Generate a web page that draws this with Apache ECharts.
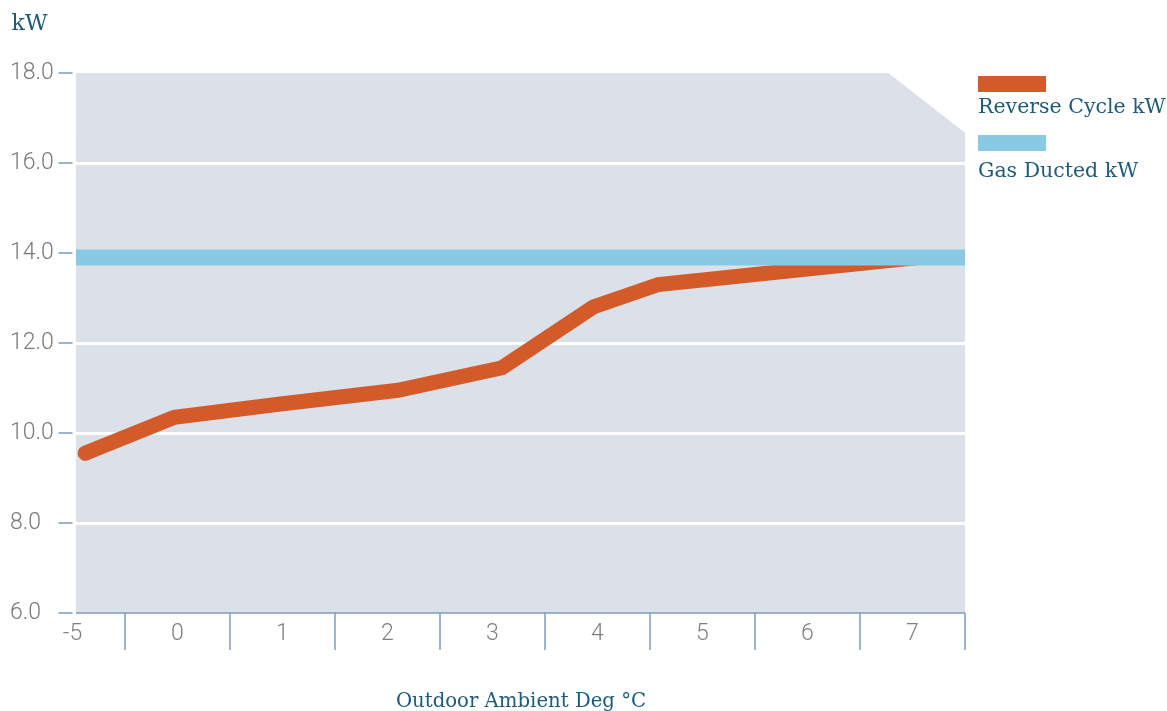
<!DOCTYPE html>
<html><head><meta charset="utf-8">
<script src="https://cdn.jsdelivr.net/npm/echarts@6/dist/echarts.min.js"></script>
<style>html,body{margin:0;padding:0;background:#fff}#c{width:1167px;height:711px}</style>
</head><body><div id="c"></div>
<script>
// ---- data ----
const categories = ['-5', '0', '1', '2', '3', '4', '5', '6', '7'];
// positions along the category axis (band index) where the Reverse Cycle line bends
const reverseCyclePos = [0.12, 0.97, 2.0, 3.1, 4.09, 4.96, 5.58, 8.05];
const reverseCycleKW = [9.55, 10.35, 10.65, 10.95, 11.45, 12.8, 13.3, 13.9];
const gasDuctedKW = 13.9;
const yMin = 6, yMax = 18, yStep = 2;
const seriesNames = ['Reverse Cycle kW', 'Gas Ducted kW'];
const xAxisTitle = 'Outdoor Ambient Deg °C';
const yAxisTitle = 'kW';

// ---- style / layout ----
const ORANGE = '#d35b2a', BLUE = '#89c9e4', GREY_BG = '#dce0e9', AXIS = '#7f9cbf', TEAL = '#1d5b78';
const NUM_FONT = 'Roboto', SLAB = '"DejaVu Serif", serif';
const bgLeft = 0.033, bgRight = 8.5, cutX = 7.77, cutY = 16.67;

function legendFor(name, top, lineHeight) {
  return {
    data: [name],
    orient: 'vertical', left: 978, top: top, padding: 0,
    icon: 'rect', itemWidth: 68, itemHeight: 16,
    selectedMode: false,
    formatter: (n) => '\n' + n,
    textStyle: {fontFamily: SLAB, fontSize: 20.5, color: TEAL, lineHeight: lineHeight, padding: [0, 0, 0, -73]}
  };
}

const chart = echarts.init(document.getElementById('c'), null, {renderer: 'canvas'});
chart.setOption({
  animation: false,
  backgroundColor: '#ffffff',
  grid: {left: 20, right: 202, top: 73, bottom: 98, containLabel: false, outerBoundsMode: 'none'},
  legend: [legendFor(seriesNames[0], 36, 48), legendFor(seriesNames[1], 85, 58)],
  xAxis: [{
    type: 'category', data: categories, boundaryGap: true,
    axisLine: {show: false},
    axisTick: {show: true, length: 37, interval: (i) => i > 0, lineStyle: {color: AXIS, width: 1.5}},
    axisLabel: {fontFamily: NUM_FONT, fontWeight: 300, fontSize: 23, color: '#808080', margin: 10},
    splitLine: {show: false},
    name: xAxisTitle, nameLocation: 'middle', nameGap: 79,
    nameTextStyle: {fontFamily: SLAB, fontSize: 19.7, color: TEAL, padding: [0, 0, 0, 57]}
  }, {
    type: 'value', min: -0.5, max: 8.5, show: false
  }],
  yAxis: {
    type: 'value', min: yMin, max: yMax, interval: yStep, offset: -50,
    axisLine: {show: false},
    axisTick: {show: true, length: 14, lineStyle: {color: AXIS, width: 1.5}},
    axisLabel: {fontFamily: NUM_FONT, fontWeight: 300, fontSize: 23, color: '#7a7a7a', align: 'left', margin: 60,
      formatter: (v) => v.toFixed(1)},
    splitLine: {show: true, showMinLine: false, showMaxLine: false, lineStyle: {color: '#ffffff', width: 3}},
    name: yAxisTitle, nameLocation: 'end', nameGap: 38,
    nameTextStyle: {fontFamily: SLAB, fontSize: 22, color: TEAL, align: 'right', padding: [0, 25, 0, 0]}
  },
  series: [{
    type: 'custom', name: 'bg', xAxisIndex: 1, z: -5, silent: true,
    data: [[0, 0]],
    renderItem: (params, api) => {
      const p = (x, y) => api.coord([x, y]);
      const a = p(bgLeft, yMin), b = p(bgRight, yMin);
      return {type: 'group', children: [
        {type: 'polygon', shape: {points: [p(bgLeft, yMin), p(bgLeft, yMax), p(cutX, yMax), p(bgRight, cutY), p(bgRight, yMin)]},
          style: {fill: GREY_BG}},
        {type: 'line', shape: {x1: a[0], y1: a[1], x2: b[0], y2: b[1]}, style: {stroke: AXIS, lineWidth: 1.5}}
      ]};
    }
  }, {
    type: 'line', name: seriesNames[0], xAxisIndex: 1, z: 3,
    data: reverseCyclePos.map((x, i) => [x, reverseCycleKW[i]]),
    showSymbol: false, symbol: 'none', color: ORANGE,
    lineStyle: {color: ORANGE, width: 15, cap: 'round', join: 'miter'}
  }, {
    type: 'line', name: seriesNames[1], xAxisIndex: 1, z: 4,
    data: [[bgLeft, gasDuctedKW], [bgRight, gasDuctedKW]],
    showSymbol: false, symbol: 'none', color: BLUE,
    lineStyle: {color: BLUE, width: 16, cap: 'butt'}
  }]
});
</script>
</body></html>
